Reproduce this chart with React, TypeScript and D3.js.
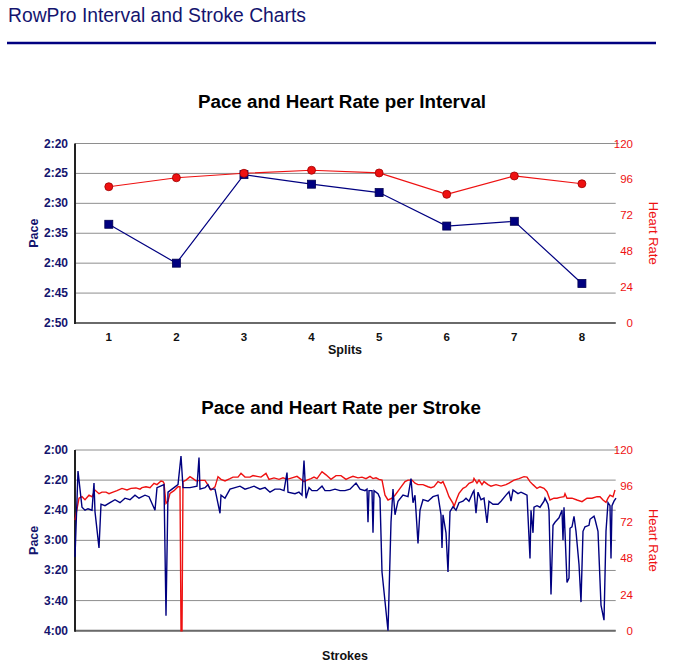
import React from "react";
import * as d3 from "d3";

const splits = [1, 2, 3, 4, 5, 6, 7, 8];
const splitPace = [153.5, 160.0, 145.2, 146.8, 148.2, 153.8, 153.0, 163.4];
const splitHR = [91.1, 97.1, 100.1, 102.1, 100.3, 86.0, 98.3, 93.1];

const paceTicksTop = [140, 145, 150, 155, 160, 165, 170];
const paceTicksBottom = [120, 140, 160, 180, 200, 220, 240];
const hrTicks = [0, 24, 48, 72, 96, 120];

const strokePace: [number, number][] = [
  [0, 191], [3, 134], [7, 158], [10, 160], [13, 159], [17, 160], [19, 142], [20, 161], [24, 185], [26, 156],
  [30, 157], [35, 155], [40, 153], [45, 155], [50, 152], [55, 153], [60, 150], [64, 152], [70, 150], [74, 151],
  [80, 160], [82, 145], [89, 143], [91, 230], [93, 148], [97, 146], [103, 143], [106, 124], [108, 145], [115, 145],
  [122, 144], [124, 125], [125, 146], [130, 145], [133, 143], [135, 146], [140, 146], [145, 162], [146, 150], [150, 152],
  [155, 146], [160, 145], [165, 144], [170, 146], [175, 145], [179, 144], [185, 146], [190, 145], [195, 148], [200, 146],
  [205, 146], [209, 147], [212, 135], [213, 148], [220, 149], [224, 148], [227, 150], [229, 127], [231, 152], [234, 145],
  [237, 147], [242, 147], [247, 144], [250, 147], [255, 147], [260, 146], [265, 147], [270, 147], [275, 146], [281, 142],
  [285, 146], [290, 147], [292, 146], [293, 168], [294, 147], [297, 147], [298, 175], [299, 147], [303, 149], [305, 152],
  [307, 201], [313, 240], [316, 168], [318, 146], [320, 163], [323, 154], [328, 150], [333, 151], [336, 139], [338, 155],
  [340, 150], [343, 182], [345, 160], [348, 153], [353, 154], [358, 151], [363, 150], [366, 163], [367, 185], [368, 163],
  [371, 175], [373, 201], [375, 161], [378, 157.6], [381, 160], [384, 155], [388, 154], [391, 152], [394, 154], [398, 148],
  [399, 147], [401, 162], [403, 148], [406, 153], [409, 152], [412, 168.5], [414, 154], [418, 156], [423, 156], [426, 154],
  [431, 150], [434, 147.7], [436, 154], [438, 146.5], [443, 149], [446, 148], [449, 149], [452, 150], [455, 192], [456, 160],
  [458, 175], [459, 158], [462, 157], [465, 158], [469, 154], [470, 152], [473, 156], [474, 160], [476, 216], [478, 170],
  [480, 168], [484, 165], [487, 160], [488, 180], [489, 158], [492, 208], [494, 205], [495, 172], [497, 171], [499, 164],
  [501, 174], [504, 196], [506, 221], [508, 174], [510, 171], [514, 170], [515, 166], [519, 164], [520, 166], [523, 174],
  [526, 223], [529, 233], [531, 174], [533, 155], [535, 157], [536, 192], [537, 157], [539, 154], [541, 152],
];

const strokeHR: [number, number][] = [
  [0, 73.5], [4, 88], [7, 89], [10, 87], [14, 90], [17, 89], [20, 93.4], [24, 91], [27, 92], [31, 92],
  [34, 91], [38, 92], [42, 93], [47, 94.5], [52, 93.5], [56, 94.5], [61, 94.8], [65, 94], [67, 95], [71, 95.6],
  [75, 95], [79, 97.9], [82, 97], [86, 99.4], [88, 99], [89, 98], [91, 84.6], [93, 86], [95, 91.2], [99, 93],
  [103, 95.6], [105, 95.6], [106, 0], [107, 0], [108, 99], [111, 100], [115, 102.3], [118, 101], [121, 99.5], [126, 99.8],
  [130, 99.8], [133, 96.7], [136, 93.4], [140, 95.5], [143, 102.3], [146, 100.5], [150, 99.5], [155, 101], [158, 102], [163, 102],
  [166, 104.5], [170, 102], [175, 102], [178, 103], [182, 102.5], [186, 102], [191, 104.5], [194, 100.5], [199, 101.5], [204, 100.5],
  [208, 101.5], [212, 100.5], [217, 101.5], [222, 102.5], [226, 100.5], [229, 99], [232, 100], [236, 101], [239, 102], [242, 101],
  [247, 105.6], [251, 103.5], [256, 100.5], [261, 103], [266, 103], [271, 100.5], [274, 101.5], [278, 102.5], [283, 101.5], [287, 102],
  [291, 101], [295, 102.5], [298, 101], [301, 101.5], [304, 100.5], [307, 100], [310, 90], [313, 86.8], [317, 88], [320, 90],
  [325, 94.5], [330, 99], [333, 100], [337, 100], [340, 98], [343, 97], [348, 97], [353, 95.6], [356, 95], [359, 95.6],
  [363, 99], [366, 98], [368, 99], [371, 94.5], [374, 89], [378, 84.6], [379, 82.3], [382, 88], [384, 91.2], [388, 94.5],
  [391, 95.6], [394, 97.9], [398, 99], [399, 101.2], [402, 98], [404, 100], [407, 97], [409, 99], [413, 97], [416, 96],
  [421, 97], [426, 96], [431, 97], [434, 98], [439, 100], [444, 101], [449, 102.3], [452, 102], [455, 99], [458, 97],
  [462, 94.5], [465, 95.6], [469, 94.5], [472, 92.3], [475, 86.8], [479, 88], [482, 88], [485, 88.5], [489, 89], [490, 91],
  [492, 88], [497, 88], [502, 86.8], [507, 85.7], [512, 88], [517, 88], [522, 89], [525, 89], [528, 86.8], [531, 85.2],
  [533, 88], [535, 90], [538, 89], [540, 93.4],
];

const FONT = "'Liberation Sans', Arial, Helvetica, sans-serif";
const NAVY = "#14146e";
const BLUE = "#000080";
const RED = "#ee1111";

const fmtPace = (s: number) => {
  const m = Math.floor(s / 60);
  const r = Math.round(s - m * 60);
  return `${m}:${r < 10 ? "0" + r : r}`;
};

const L = 75;
const R = 615.7;

function Frame({ top, bottom, paceScale, hrScale, paceTicks }: any) {
  return (
    <g>
      {paceTicks.map((t: number) => (
        <line key={"g" + t} x1={L} x2={R} y1={paceScale(t)} y2={paceScale(t)} stroke="#8e8e8e" strokeWidth={1} />
      ))}
      <line x1={R} x2={R + 3} y1={top} y2={top} stroke="#8e8e8e" strokeWidth={1} />
      {paceTicks.map((t: number) => (
        <text key={"p" + t} x={68} y={paceScale(t) + 4} textAnchor="end" fontSize={12} fontWeight="bold" fill={NAVY} fontFamily={FONT}>
          {fmtPace(t)}
        </text>
      ))}
      {hrTicks.map((t: number) => (
        <text key={"h" + t} x={633} y={hrScale(t) + 4} textAnchor="end" fontSize={11.5} fill={RED} fontFamily={FONT}>
          {t}
        </text>
      ))}
      <line x1={L} x2={R} y1={bottom} y2={bottom} stroke="#6a6a6a" strokeWidth={2} />
      <line x1={L} x2={L} y1={top} y2={bottom + 1} stroke="#222" strokeWidth={2} />
      <text transform={`translate(38,${(top + bottom) / 2}) rotate(-90)`} textAnchor="middle" fontSize={12.5} fontWeight="bold" fill={NAVY} fontFamily={FONT}>
        Pace
      </text>
      <text transform={`translate(649,${(top + bottom) / 2}) rotate(90)`} textAnchor="middle" fontSize={13} fill={RED} fontFamily={FONT}>
        Heart Rate
      </text>
    </g>
  );
}

export default function App() {
  // top chart
  const t1 = 143.5, b1 = 323;
  const x1 = d3.scalePoint<number>().domain(splits).range([L, R]).padding(0.5);
  const p1 = d3.scaleLinear().domain([140, 170]).range([t1, b1]);
  const h1 = d3.scaleLinear().domain([0, 120]).range([b1, t1]);
  const paceLine1 = d3.line<number>().x((_, i) => x1(splits[i])!).y((d) => p1(d))(splitPace) || "";
  const hrLine1 = d3.line<number>().x((_, i) => x1(splits[i])!).y((d) => h1(d))(splitHR) || "";

  // bottom chart
  const t2 = 450, b2 = 630.7;
  const x2 = d3.scaleLinear().domain([0, 541]).range([L, 616]);
  const p2 = d3.scaleLinear().domain([120, 240]).range([t2, b2]);
  const h2 = d3.scaleLinear().domain([0, 120]).range([b2, t2]);
  const paceLine2 = d3.line<[number, number]>().x((d) => x2(d[0])).y((d) => p2(d[1]))(strokePace) || "";
  const hrLine2 = d3.line<[number, number]>().x((d) => x2(d[0])).y((d) => h2(d[1]))(strokeHR) || "";

  return (
    <svg width={674} height={663} style={{ position: "absolute", left: 0, top: 0, background: "#fff" }}>
      <text x={8} y={22} fontSize={19.3} fill={NAVY} fontFamily={FONT}>
        RowPro Interval and Stroke Charts
      </text>
      <line x1={7} x2={656} y1={43} y2={43} stroke={BLUE} strokeWidth={2.5} />

      <text x={342} y={108} textAnchor="middle" fontSize={18.8} fontWeight="bold" fill="#000" fontFamily={FONT}>
        Pace and Heart Rate per Interval
      </text>
      <Frame top={t1} bottom={b1} paceScale={p1} hrScale={h1} paceTicks={paceTicksTop} />
      {splits.map((s) => (
        <text key={"x" + s} x={x1(s)} y={341} textAnchor="middle" fontSize={11.5} fontWeight="bold" fill="#111" fontFamily={FONT}>
          {s}
        </text>
      ))}
      <text x={345} y={354} textAnchor="middle" fontSize={12.5} fontWeight="bold" fill="#111" fontFamily={FONT}>
        Splits
      </text>
      <path d={paceLine1} fill="none" stroke={BLUE} strokeWidth={1.2} />
      <path d={hrLine1} fill="none" stroke={RED} strokeWidth={1.2} />
      {splitPace.map((v, i) => (
        <rect key={"sq" + i} x={x1(splits[i])! - 4} y={p1(v) - 4} width={8} height={8} fill={BLUE} stroke="#000050" strokeWidth={0.8} />
      ))}
      {splitHR.map((v, i) => (
        <circle key={"c" + i} cx={x1(splits[i])!} cy={h1(v)} r={4} fill={RED} stroke="#a00000" strokeWidth={0.8} />
      ))}

      <text x={341} y={414} textAnchor="middle" fontSize={18.8} fontWeight="bold" fill="#000" fontFamily={FONT}>
        Pace and Heart Rate per Stroke
      </text>
      <Frame top={t2} bottom={b2} paceScale={p2} hrScale={h2} paceTicks={paceTicksBottom} />
      <text x={345} y={660} textAnchor="middle" fontSize={12.5} fontWeight="bold" fill="#111" fontFamily={FONT}>
        Strokes
      </text>
      <path d={hrLine2} fill="none" stroke={RED} strokeWidth={1.4} />
      <path d={paceLine2} fill="none" stroke={BLUE} strokeWidth={1.4} />
    </svg>
  );
}
